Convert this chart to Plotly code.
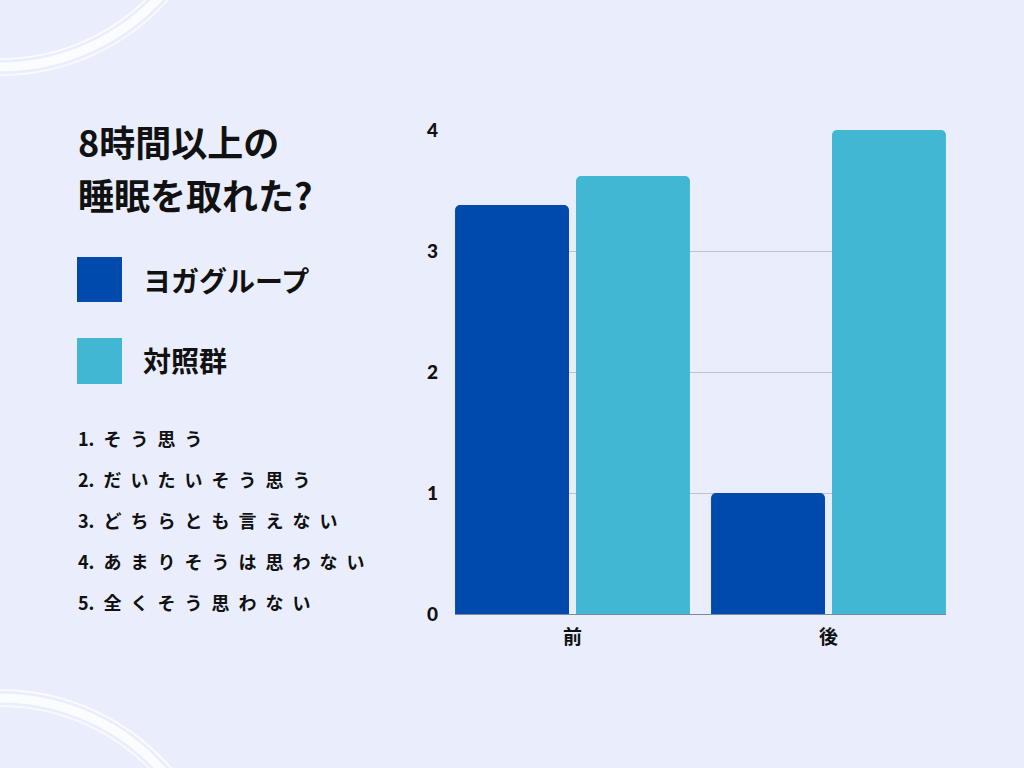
import plotly.graph_objects as go

# ---- data ----
categories = ["前", "後"]
yoga_values = [3.38, 1.0]
control_values = [3.62, 4.0]
series_names = ["ヨガグループ", "対照群"]
title_lines = ["8時間以上の", "睡眠を取れた?"]
scale_items = ["1. そう思う", "2. だいたいそう思う", "3. どちらとも言えない",
               "4. あまりそうは思わない", "5. 全くそう思わない"]
y_ticks = [0, 1, 2, 3, 4]

# ---- styles ----
BG = "#E9EDFC"
DARK = "#004AAD"
LIGHT = "#42B7D4"
FONT = "Noto Sans CJK JP"

# plot area in pixels
L, R, T, B = 455, 946, 130, 614
W, H = R - L, B - T


def px(X):
    return (X - L) / W


def py(Y):
    return (B - Y) / H


def spaced(s):
    num, rest = s.split(" ", 1)
    return num + "\u2002" + "\u2002".join(list(rest))


fig = go.Figure()
fig.add_trace(go.Bar(x=categories, y=yoga_values, name=series_names[0],
                     marker=dict(color=DARK, line=dict(width=0))))
fig.add_trace(go.Bar(x=categories, y=control_values, name=series_names[1],
                     marker=dict(color=LIGHT, line=dict(width=0))))

shapes = []
# decorative arcs
for (cx, cy, r, w, op) in [
    (0, -150, 209, 2, 0.8), (0, -150, 217, 9, 0.85), (0, -150, 225, 2, 0.7),
    (0, 916, 210, 2, 0.7), (0, 916, 218, 9, 0.85), (0, 916, 226, 2, 0.8),
]:
    shapes.append(dict(type="circle", xref="paper", yref="paper",
                       x0=px(cx - r), x1=px(cx + r), y0=py(cy + r), y1=py(cy - r),
                       line=dict(color="white", width=w), opacity=op, layer="below"))
# legend swatches
for (y0, y1, c) in [(257, 302, DARK), (338, 384, LIGHT)]:
    shapes.append(dict(type="rect", xref="paper", yref="paper",
                       x0=px(77), x1=px(122), y0=py(y1), y1=py(y0),
                       fillcolor=c, line=dict(width=0)))

annotations = []
for i, (line, yc) in enumerate(zip(title_lines, [141, 194])):
    annotations.append(dict(text=line, xref="paper", yref="paper", x=px(76), y=py(yc),
                            xanchor="left", yanchor="middle", showarrow=False,
                            font=dict(family=FONT, size=36, color="#111111", weight="bold")))
for name, yc in zip(series_names, [280, 360]):
    annotations.append(dict(text=name, xref="paper", yref="paper", x=px(141), y=py(yc),
                            xanchor="left", yanchor="middle", showarrow=False,
                            font=dict(family=FONT, size=28, color="#111111", weight="bold")))
for item, yc in zip(scale_items, [438, 479, 520, 561, 602]):
    annotations.append(dict(text=spaced(item), xref="paper", yref="paper", x=px(76), y=py(yc),
                            xanchor="left", yanchor="middle", showarrow=False,
                            font=dict(family=FONT, size=18, color="#111111", weight="bold")))

fig.update_layout(
    width=1024, height=768,
    paper_bgcolor=BG, plot_bgcolor=BG,
    margin=dict(l=L, r=1024 - R, t=T, b=768 - B, pad=0),
    barmode="group", bargap=0.055, bargroupgap=0.058, barcornerradius=5,
    showlegend=False,
    shapes=shapes, annotations=annotations,
    font=dict(family=FONT, color="#111111"),
    xaxis=dict(type="category", range=[-0.459, 1.459], showgrid=False,
               showline=False, zeroline=False, ticks="",
               tickfont=dict(family=FONT, size=19, color="#111111", weight="bold"),
               ticklabelstandoff=10, fixedrange=True),
    yaxis=dict(range=[0, 4], tickvals=y_ticks, showgrid=True, gridcolor="#BDC1CE",
               gridwidth=1, zeroline=True, zerolinecolor="#7F8799", zerolinewidth=1,
               showline=False, ticks="",
               tickfont=dict(family="Lato", size=19, color="#111111", weight=900),
               ticklabelstandoff=16, fixedrange=True),
)

fig.write_html("out.html", config={"displayModeBar": False},
               post_script="document.body.style.margin='0';document.body.style.background='" + BG + "';")
